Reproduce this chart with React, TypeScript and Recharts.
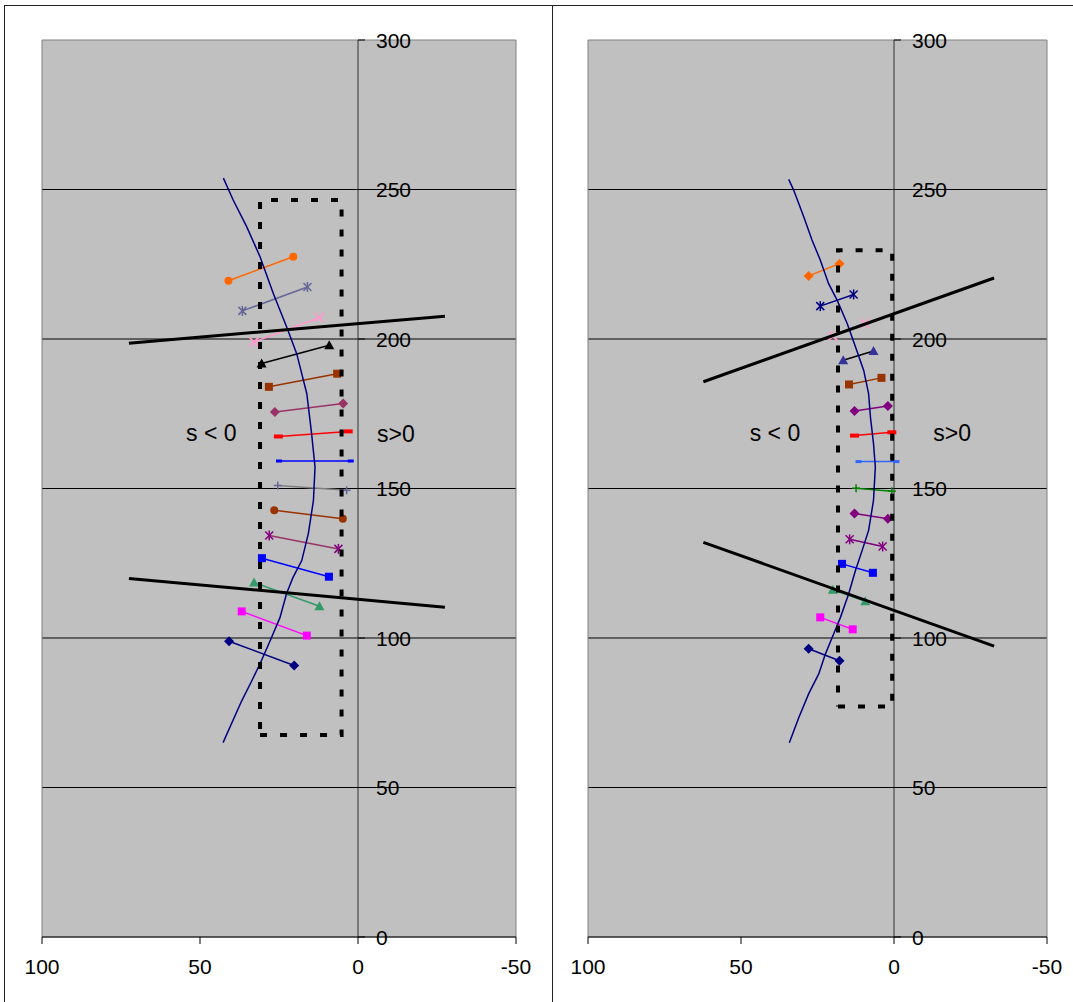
import React from 'react';
import { ScatterChart, Scatter, XAxis, YAxis, CartesianGrid, ReferenceLine, ReferenceArea } from 'recharts';

const FONT = '"Liberation Sans", Arial, Helvetica, sans-serif';

const xTicks = [100, 50, 0, -50];
const yTicks = [0, 50, 100, 150, 200, 250, 300];
const gridValues = [50, 100, 150, 200, 250];

// ---------- left panel data ----------
const leftCurve: [number, number][] = [
  [42.6, 253.8], [39.5, 246.5], [35.2, 237.5], [31.0, 227.5], [26.8, 215.2], [22.6, 204.1],
  [19.4, 195.1], [16.2, 181.7], [14.7, 168.5], [13.6, 157.2], [14.1, 146.0], [15.7, 135.0],
  [17.8, 125.9], [20.6, 120.2], [22.6, 114.9], [24.7, 106.8], [27.8, 99.1], [31.0, 91.4],
  [33.6, 85.7], [36.8, 79.0], [42.7, 65.0],
];
const leftBox: [number, number][] = [[31.0, 67.6], [5.2, 67.6], [5.2, 246.5], [31.0, 246.5], [31.0, 67.6]];
const leftUpperLine: [number, number][] = [[72.5, 198.6], [-27.5, 207.6]];
const leftLowerLine: [number, number][] = [[72.5, 119.9], [-27.5, 110.3]];
const leftSegStart: [number, number][] = [
  [41.0, 219.5], [36.6, 209.4], [32.9, 199.0], [30.5, 191.8], [28.2, 184.0], [26.3, 175.6],
  [25.2, 167.4], [25.0, 159.2], [25.4, 151.0], [26.5, 142.7], [28.1, 134.3], [30.4, 126.7],
  [32.9, 118.6], [36.8, 108.9], [40.8, 98.9],
];
const leftSegEnd: [number, number][] = [
  [20.5, 227.5], [16.0, 217.4], [12.2, 207.2], [9.1, 197.9], [6.6, 188.4], [4.7, 178.4],
  [3.1, 169.1], [2.3, 159.2], [3.6, 149.4], [4.8, 139.9], [6.2, 129.8], [9.2, 120.5],
  [12.2, 110.6], [16.2, 100.8], [20.2, 90.8],
];
const leftLabels = [
  { x: 46.4, y: 168.5, label: 's < 0' },
  { x: -12.0, y: 168.3, label: 's>0' },
];

// ---------- right panel data ----------
const rightCurve: [number, number][] = [
  [34.4, 253.4], [32.8, 249.8], [29.5, 240.9], [26.8, 233.1], [24.1, 226.4], [21.4, 218.6],
  [18.6, 213.0], [15.3, 205.2], [12.6, 197.4], [9.9, 189.5], [8.3, 181.7], [7.7, 173.9],
  [6.7, 165.0], [6.1, 157.2], [6.7, 146.0], [8.3, 136.0], [10.4, 129.3], [12.6, 122.6],
  [14.8, 114.8], [17.5, 106.9], [19.7, 101.4], [22.4, 94.7], [24.6, 88.0], [27.9, 81.3],
  [31.1, 73.4], [34.2, 65.0],
];
const rightBox: [number, number][] = [[18.3, 77.1], [0.6, 77.1], [0.6, 229.7], [18.3, 229.7], [18.3, 77.1]];
const rightUpperLine: [number, number][] = [[62.3, 185.7], [-32.7, 220.4]];
const rightLowerLine: [number, number][] = [[62.3, 132.0], [-32.7, 97.3]];
const rightSegStart: [number, number][] = [
  [27.9, 221.1], [24.1, 211.0], [20.0, 201.0], [16.6, 192.9], [14.7, 184.8], [12.9, 175.9],
  [12.9, 167.7], [11.6, 159.0], [12.4, 150.1], [12.9, 141.6], [14.5, 133.0], [17.0, 124.8],
  [20.0, 116.1], [24.1, 106.9], [27.9, 96.4],
];
const rightSegEnd: [number, number][] = [
  [17.8, 225.2], [13.2, 214.9], [9.6, 205.2], [6.7, 196.0], [4.1, 187.0], [2.0, 177.6],
  [0.7, 168.8], [-0.8, 159.0], [0.7, 149.1], [2.0, 139.9], [3.7, 130.6], [6.9, 121.8],
  [9.4, 112.3], [13.5, 102.9], [17.8, 92.4],
];
const rightLabels = [
  { x: 38.9, y: 168.5, label: 's < 0' },
  { x: -19.0, y: 168.5, label: 's>0' },
];

// ---------- styles ----------
type Kind = 'diamond' | 'square' | 'triangle' | 'x' | 'star' | 'circle' | 'plus' | 'dash' | 'longdash';
type SegStyle = { line: string; marker: string; kind: Kind };

const leftStyles: SegStyle[] = [
  { line: '#FF6600', marker: '#FF6600', kind: 'circle' },
  { line: '#666699', marker: '#666699', kind: 'star' },
  { line: '#FF99CC', marker: '#FF99CC', kind: 'x' },
  { line: '#000000', marker: '#000000', kind: 'triangle' },
  { line: '#993300', marker: '#993300', kind: 'square' },
  { line: '#993366', marker: '#993366', kind: 'diamond' },
  { line: '#FF0000', marker: '#FF0000', kind: 'longdash' },
  { line: '#0000FF', marker: '#0000FF', kind: 'dash' },
  { line: '#808080', marker: '#666699', kind: 'plus' },
  { line: '#993300', marker: '#993300', kind: 'circle' },
  { line: '#993366', marker: '#800080', kind: 'star' },
  { line: '#0000FF', marker: '#0000FF', kind: 'square' },
  { line: '#339966', marker: '#339966', kind: 'triangle' },
  { line: '#FF00FF', marker: '#FF00FF', kind: 'square' },
  { line: '#000080', marker: '#000080', kind: 'diamond' },
];
const rightStyles: SegStyle[] = [
  { line: '#FF6600', marker: '#FF6600', kind: 'diamond' },
  { line: '#000080', marker: '#000080', kind: 'star' },
  { line: '#FF99CC', marker: '#FF99CC', kind: 'x' },
  { line: '#000000', marker: '#333399', kind: 'triangle' },
  { line: '#993300', marker: '#993300', kind: 'square' },
  { line: '#800080', marker: '#800080', kind: 'diamond' },
  { line: '#FF0000', marker: '#FF0000', kind: 'longdash' },
  { line: '#3366FF', marker: '#3366FF', kind: 'dash' },
  { line: '#008000', marker: '#008000', kind: 'plus' },
  { line: '#800080', marker: '#800080', kind: 'diamond' },
  { line: '#800080', marker: '#800080', kind: 'star' },
  { line: '#0000FF', marker: '#0000FF', kind: 'square' },
  { line: '#339966', marker: '#339966', kind: 'triangle' },
  { line: '#FF00FF', marker: '#FF00FF', kind: 'square' },
  { line: '#000080', marker: '#000080', kind: 'diamond' },
];

function Marker({ cx, cy, kind, color }: { cx: number; cy: number; kind: Kind; color: string }) {
  if (cx == null || cy == null) return <g />;
  switch (kind) {
    case 'diamond':
      return <polygon points={`${cx},${cy - 5} ${cx + 5},${cy} ${cx},${cy + 5} ${cx - 5},${cy}`} fill={color} />;
    case 'square':
      return <rect x={cx - 4} y={cy - 4} width={8} height={8} fill={color} />;
    case 'triangle':
      return <polygon points={`${cx},${cy - 5} ${cx + 5},${cy + 4} ${cx - 5},${cy + 4}`} fill={color} />;
    case 'circle':
      return <circle cx={cx} cy={cy} r={4} fill={color} />;
    case 'x':
      return (
        <g stroke={color} strokeWidth={1.8}>
          <line x1={cx - 4.5} y1={cy - 4.5} x2={cx + 4.5} y2={cy + 4.5} />
          <line x1={cx - 4.5} y1={cy + 4.5} x2={cx + 4.5} y2={cy - 4.5} />
        </g>
      );
    case 'star':
      return (
        <g stroke={color} strokeWidth={1.5}>
          <line x1={cx - 4} y1={cy - 4} x2={cx + 4} y2={cy + 4} />
          <line x1={cx - 4} y1={cy + 4} x2={cx + 4} y2={cy - 4} />
          <line x1={cx} y1={cy - 5} x2={cx} y2={cy + 5} />
        </g>
      );
    case 'plus':
      return (
        <g stroke={color} strokeWidth={1.5}>
          <line x1={cx - 4} y1={cy} x2={cx + 4} y2={cy} />
          <line x1={cx} y1={cy - 4} x2={cx} y2={cy + 4} />
        </g>
      );
    case 'dash':
      return <rect x={cx - 3} y={cy - 1.5} width={6} height={3} fill={color} />;
    case 'longdash':
      return <rect x={cx - 4.5} y={cy - 2} width={9} height={4} fill={color} />;
  }
  return <g />;
}

const toPts = (arr: [number, number][]) => arr.map(([x, y]) => ({ x, y }));
const noShape = () => <g />;

const makeYTick = (off: number) => (props: any) => {
  const { x, y, payload } = props;
  const ax = x + off;
  return (
    <g>
      <line x1={ax} x2={ax + 7} y1={y} y2={y} stroke="#000" strokeWidth={1} />
      <text x={ax + 18} y={y} dy="0.36em" fontSize={21} fontFamily={FONT} fill="#000" textAnchor="start">
        {payload.value}
      </text>
    </g>
  );
};

const labelShape = (p: any) => (
  <text
    x={p.cx}
    y={p.cy}
    textAnchor="middle"
    dominantBaseline="central"
    fontSize={23}
    fontFamily={FONT}
    fill="#000"
  >
    {p.payload.label}
  </text>
);

type PanelProps = {
  width: number;
  margin: { top: number; right: number; bottom: number; left: number };
  curve: [number, number][];
  box: [number, number][];
  upper: [number, number][];
  lower: [number, number][];
  segStart: [number, number][];
  segEnd: [number, number][];
  styles: SegStyle[];
  labels: { x: number; y: number; label: string }[];
};

function Panel({ width, margin, curve, box, upper, lower, segStart, segEnd, styles, labels }: PanelProps) {
  const height = 1002;
  const plotW = width - margin.left - margin.right;
  const yAxisOffset = (plotW * (100 - 0)) / (100 - -50);
  return (
    <ScatterChart width={width} height={height} margin={margin}>
      <CartesianGrid vertical={false} horizontalValues={gridValues} stroke="#000" strokeWidth={1} fill="#C0C0C0" fillOpacity={1} />
      <ReferenceArea x1={100} x2={-50} y1={0} y2={300} fill="none" stroke="#808080" strokeWidth={1} />
      <XAxis
        type="number"
        dataKey="x"
        domain={[-50, 100]}
        reversed
        ticks={xTicks}
        interval={0}
        height={50}
        allowDataOverflow
        stroke="#000"
        tickSize={7}
        tickMargin={15}
        tick={{ fontSize: 21, fill: '#000', fontFamily: FONT }}
      />
      <YAxis
        type="number"
        dataKey="y"
        domain={[0, 300]}
        ticks={yTicks}
        interval={0}
        mirror
        width={60}
        allowDataOverflow
        axisLine={false}
        tickLine={false}
        tickSize={0}
        tickMargin={0}
        tick={makeYTick(yAxisOffset)}
      />
      <ReferenceLine x={0} stroke="#333" strokeWidth={1} />
      {segStart.map((s, i) => {
        const st = styles[i];
        return (
          <Scatter
            key={'seg' + i}
            data={toPts([s, segEnd[i]])}
            isAnimationActive={false}
            fill={st.marker}
            line={{ stroke: st.line, strokeWidth: 1.5 }}
            shape={(p: any) => <Marker cx={p.cx} cy={p.cy} kind={st.kind} color={st.marker} />}
          />
        );
      })}
      <Scatter
        data={toPts(curve)}
        isAnimationActive={false}
        line={{ stroke: '#000080', strokeWidth: 1.5 }}
        shape={noShape}
      />
      <Scatter
        data={toPts(box)}
        isAnimationActive={false}
        line={{ stroke: '#000', strokeWidth: 4, strokeDasharray: '7 13' }}
        shape={noShape}
      />
      <Scatter data={toPts(upper)} isAnimationActive={false} line={{ stroke: '#000', strokeWidth: 3 }} shape={noShape} />
      <Scatter data={toPts(lower)} isAnimationActive={false} line={{ stroke: '#000', strokeWidth: 3 }} shape={noShape} />
      <Scatter data={labels} isAnimationActive={false} shape={labelShape} />
    </ScatterChart>
  );
}

export default function App() {
  return (
    <div
      style={{
        position: 'absolute',
        left: 0,
        top: 0,
        width: 1073,
        height: 1002,
        overflow: 'hidden',
        background: '#fff',
        fontFamily: FONT,
      }}
    >
      <div
        style={{
          position: 'absolute',
          left: 4,
          top: 5,
          width: 549,
          height: 1100,
          border: '1px solid #222',
          boxSizing: 'border-box',
        }}
      />
      <div
        style={{
          position: 'absolute',
          left: 552,
          top: 5,
          width: 600,
          height: 1100,
          border: '1px solid #222',
          boxSizing: 'border-box',
        }}
      />
      <div style={{ position: 'absolute', left: 0, top: 0 }}>
        <Panel
          width={553}
          margin={{ top: 40, right: 37, bottom: 15, left: 42 }}
          curve={leftCurve}
          box={leftBox}
          upper={leftUpperLine}
          lower={leftLowerLine}
          segStart={leftSegStart}
          segEnd={leftSegEnd}
          styles={leftStyles}
          labels={leftLabels}
        />
      </div>
      <div style={{ position: 'absolute', left: 553, top: 0 }}>
        <Panel
          width={520}
          margin={{ top: 40, right: 26, bottom: 15, left: 35 }}
          curve={rightCurve}
          box={rightBox}
          upper={rightUpperLine}
          lower={rightLowerLine}
          segStart={rightSegStart}
          segEnd={rightSegEnd}
          styles={rightStyles}
          labels={rightLabels}
        />
      </div>
    </div>
  );
}
